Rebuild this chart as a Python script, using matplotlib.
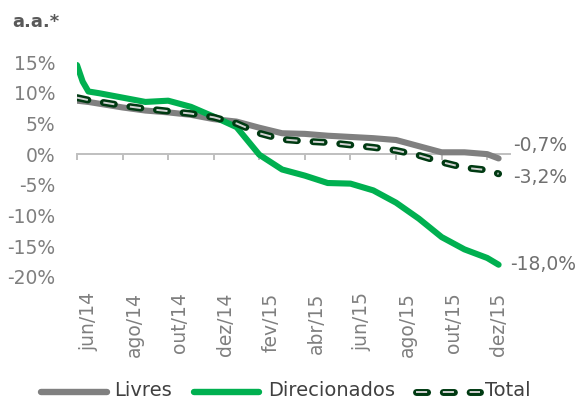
import matplotlib
matplotlib.use("Agg")
import matplotlib.pyplot as plt
from matplotlib.lines import Line2D

plt.rcParams['font.family'] = ['DejaVu Sans']
plt.rcParams['lines.scale_dashes'] = False

# ---- data (x = months since start of jun/14) ----
months = [0, 0.25, 0.5, 1, 2, 3, 4, 5, 6, 7, 8, 9, 10, 11, 12, 13, 14, 15, 16, 17, 18, 18.5]
livres = [8.7, 8.6, 8.5, 8.2, 7.6, 7.1, 6.8, 6.4, 5.7, 5.3, 4.3, 3.4, 3.3, 3.0, 2.8, 2.6, 2.3, 1.3, 0.3, 0.3, 0.0, -0.7]
direcionados = [14.5, 11.8, 10.2, 9.9, 9.2, 8.5, 8.7, 7.7, 6.1, 4.4, -0.1, -2.5, -3.5, -4.7, -4.8, -5.9, -7.9, -10.5, -13.5, -15.5, -16.9, -18.0]
total = [9.2, 9.0, 8.8, 8.5, 7.9, 7.4, 7.0, 6.6, 6.0, 5.0, 3.4, 2.4, 2.1, 1.9, 1.5, 1.1, 0.6, -0.2, -1.3, -2.2, -2.6, -3.2]
tick_labels = ['jun/14', 'ago/14', 'out/14', 'dez/14', 'fev/15', 'abr/15',
               'jun/15', 'ago/15', 'out/15', 'dez/15']
y_ticks = [-20, -15, -10, -5, 0, 5, 10, 15]
series_names = ['Livres', 'Direcionados', 'Total']

GRAY = '#808080'
GREEN = '#00B050'
DKGREEN = '#003A12'
INNER = '#d2d2d2'
TXT = '#7f7f7f'

W, H = 577, 403
fig = plt.figure(figsize=(W / 100, H / 100), dpi=100)
ax = fig.add_axes([77 / W, 1 - 277 / H, 433 / W, 215 / H])
ax.set_xlim(0, 19)
ax.set_ylim(-20, 15)

ax.plot(months, livres, color=GRAY, lw=4.4, solid_capstyle='round', solid_joinstyle='round', zorder=3)
ax.plot(months, direcionados, color=GREEN, lw=4.4, solid_capstyle='round', solid_joinstyle='round', zorder=4)
dash = (0, (8, 11.3))
ax.plot(months, total, color=DKGREEN, lw=5, linestyle=dash, dash_capstyle='round', dash_joinstyle='round', zorder=5)
ax.plot(months, total, color=INNER, lw=1.4, linestyle=dash, dash_capstyle='butt', zorder=6)

# axes styling
for s in ['top', 'right', 'left']:
    ax.spines[s].set_visible(False)
ax.spines['bottom'].set_position(('data', 0))
ax.spines['bottom'].set_color('#BFBFBF')
ax.spines['bottom'].set_linewidth(1.4)
ax.set_xticks(range(0, 19, 2))
ax.tick_params(axis='x', direction='out', length=4.5, width=1.4, color='#BFBFBF', labelbottom=False)
ax.set_yticks(y_ticks)
ax.set_yticklabels([f"{v}%" for v in y_ticks])
ax.tick_params(axis='y', length=0, pad=15.5, labelsize=13.5, labelcolor=TXT)

sec = ax.secondary_xaxis('bottom')
sec.set_xticks([2 * i + 0.5 for i in range(len(tick_labels))])
sec.set_xticklabels(tick_labels, rotation=90)
sec.tick_params(length=0, pad=11, labelsize=13.5, labelcolor=TXT)
sec.spines['bottom'].set_visible(False)

# end labels
def fmt(v):
    return f"{v:.1f}%".replace('.', ',')

ax.annotate(fmt(livres[-1]), xy=(months[-1], livres[-1]), xytext=(10.8, 9.4), textcoords='offset points',
            va='center', ha='left', fontsize=13.5, color='#707070', annotation_clip=False)
ax.annotate(fmt(total[-1]), xy=(months[-1], total[-1]), xytext=(10.8, -2.4), textcoords='offset points',
            va='center', ha='left', fontsize=13.5, color='#707070', annotation_clip=False)
ax.annotate(fmt(direcionados[-1]), xy=(months[-1], direcionados[-1]), xytext=(8.6, 0), textcoords='offset points',
            va='center', ha='left', fontsize=13.5, color='#707070', annotation_clip=False)

# title
fig.text(12 / W, 1 - 27 / H, 'a.a.*', fontsize=13, fontweight='bold', color='#595959', va='baseline', ha='left')

# legend (manual)
def fx(px):
    return px / W

ly = 1 - 392 / H
ty = 1 - 390 / H
fig.add_artist(Line2D([fx(40.5), fx(106.5)], [ly, ly], color=GRAY, lw=4.6, solid_capstyle='round'))
fig.text(fx(114), ty, series_names[0], fontsize=14, color='#404040', va='center', ha='left')
fig.add_artist(Line2D([fx(193.5), fx(258.5)], [ly, ly], color=GREEN, lw=4.6, solid_capstyle='round'))
fig.text(fx(268), ty, series_names[1], fontsize=14, color='#404040', va='center', ha='left')
fig.add_artist(Line2D([fx(415.5), fx(480)], [ly, ly], color=DKGREEN, lw=5, linestyle=dash, dash_capstyle='round'))
fig.add_artist(Line2D([fx(415.5), fx(480)], [ly, ly], color=INNER, lw=1.4, linestyle=dash, dash_capstyle='butt'))
fig.text(fx(485), ty, series_names[2], fontsize=14, color='#404040', va='center', ha='left')

fig.savefig('out.png', dpi=100)
